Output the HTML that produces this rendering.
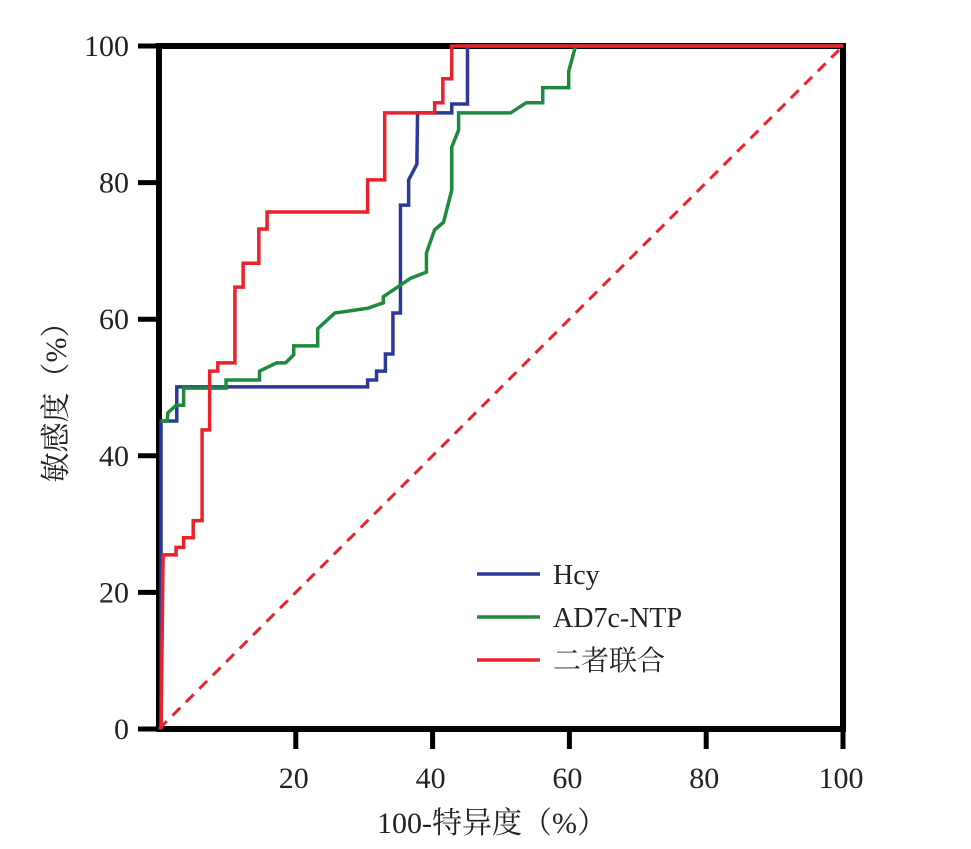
<!DOCTYPE html>
<html><head><meta charset="utf-8"><style>
body{margin:0;background:#fff;}
svg text{font-family:"Liberation Serif","Noto Serif CJK SC",serif;fill:#222;}
</style></head><body>
<svg width="971" height="844" viewBox="0 0 971 844">
<g id="axes"></g><g id="series"></g><g id="legend"></g>
</svg>
<script>
const xTicks=[20,40,60,80,100];
const yTicks=[0,20,40,60,80,100];
const seriesNames=["Hcy","AD7c-NTP","二者联合"];
const hcyX=[0.3,0.3,2.6,2.6,30.5,30.5,31.8,31.8,33.1,33.1,34.2,34.2,35.3,35.3,36.5,36.5,37.7,37.8,42.8,42.8,45.1,45.1,100];
const hcyY=[0,45.1,45.1,50.1,50.1,51.1,51.1,52.4,52.4,54.9,54.9,60.9,60.9,76.7,76.7,80.4,82.7,90.2,90.2,91.5,91.5,100,100];
const adX=[0.3,1.2,1.3,2.5,3.6,3.6,9.8,9.8,14.7,14.7,17.2,18.5,19.7,19.7,23.2,23.2,25.7,30.5,32.8,32.8,36.8,39.1,39.1,40.3,41.6,42.8,42.8,43.8,43.8,51.4,53.7,56.1,56.1,59.9,59.9,60.9,100];
const adY=[45.1,45.1,46.3,47.4,47.4,49.9,49.9,51.1,51.1,52.4,53.6,53.6,54.8,56.1,56.1,58.6,60.9,61.6,62.4,63.3,66.0,66.9,69.7,73.1,74.2,78.9,85.2,87.7,90.2,90.2,91.7,91.7,93.9,93.9,96.3,100,100];
const comboX=[0.3,0.6,2.5,2.5,3.6,3.6,5.0,5.0,6.3,6.3,7.4,7.4,8.6,8.6,11.1,11.1,12.3,12.3,14.6,14.6,15.8,15.8,30.5,30.5,33.0,33.0,40.3,40.3,41.5,41.5,42.8,42.8,100];
const comboY=[0,25.5,25.5,26.6,26.6,28.0,28.0,30.5,30.5,43.8,43.8,52.4,52.4,53.6,53.6,64.7,64.7,68.2,68.2,73.2,73.2,75.7,75.7,80.4,80.4,90.2,90.2,91.7,91.7,95.2,95.2,100,100];
const colors=["#2b3a98","#1f8a3e","#e8232b"];
const NS="http://www.w3.org/2000/svg";
const X0=159,X1=843,Y0=729,Y1=46;
function sx(v){return X0+(X1-X0)*v/100;}
function sy(v){return Y0-(Y0-Y1)*v/100;}
function mk(t,a,p){const e=document.createElementNS(NS,t);for(const k in a)e.setAttribute(k,a[k]);p.appendChild(e);return e;}
const axes=document.getElementById('axes'),ser=document.getElementById('series'),leg=document.getElementById('legend');
const diag=mk('line',{x1:sx(0),y1:sy(0),x2:sx(100),y2:sy(100),stroke:"#e8232b","stroke-width":3,"stroke-dasharray":"11,8"},ser);


const xs=[hcyX,adX,comboX],ys=[hcyY,adY,comboY];
const snames=['hcy-line','ad7c-ntp-line','combined-line'];
for(let i=0;i<3;i++){
 const pts=xs[i].map((x,j)=>sx(x)+","+sy(ys[i][j])).join(" ");
 const pl=mk('polyline',{points:pts,fill:"none",stroke:colors[i],"stroke-width":3.5,"stroke-linejoin":"miter"},ser);
 
 
}
const fr=mk('rect',{x:X0,y:Y1,width:X1-X0,height:Y0-Y1,fill:"none",stroke:"#000","stroke-width":6},axes);


yTicks.forEach(v=>{
 const l=mk('line',{x1:138,x2:X0,y1:sy(v),y2:sy(v),stroke:"#000","stroke-width":5},axes);
 
 
 const t=mk('text',{x:129,y:sy(v)+10,"text-anchor":"end","font-size":30},axes);t.textContent=v;
 
 
});
xTicks.forEach(v=>{
 const l=mk('line',{x1:sx(v),x2:sx(v),y1:Y0,y2:749,stroke:"#000","stroke-width":5},axes);
 
 
 const t=mk('text',{x:sx(v)-2,y:788,"text-anchor":"middle","font-size":30},axes);t.textContent=v;
 
 
});
const xt=mk('text',{x:492,y:833,"text-anchor":"middle","font-size":30},axes);xt.textContent="100-特异度（%）";


const yt=mk('text',{x:0,y:0,"text-anchor":"middle","font-size":30,transform:"translate(66,395) rotate(-90)"},axes);yt.textContent="敏感度（%）";


const ly=[574,617,660];
for(let i=0;i<3;i++){
 const l=mk('line',{x1:477,x2:540,y1:ly[i],y2:ly[i],stroke:colors[i],"stroke-width":3.5},leg);
 
 
 const t=mk('text',{x:553,y:ly[i]+10,"font-size":28},leg);t.textContent=seriesNames[i];
 
 
}
</script>
</body></html>
